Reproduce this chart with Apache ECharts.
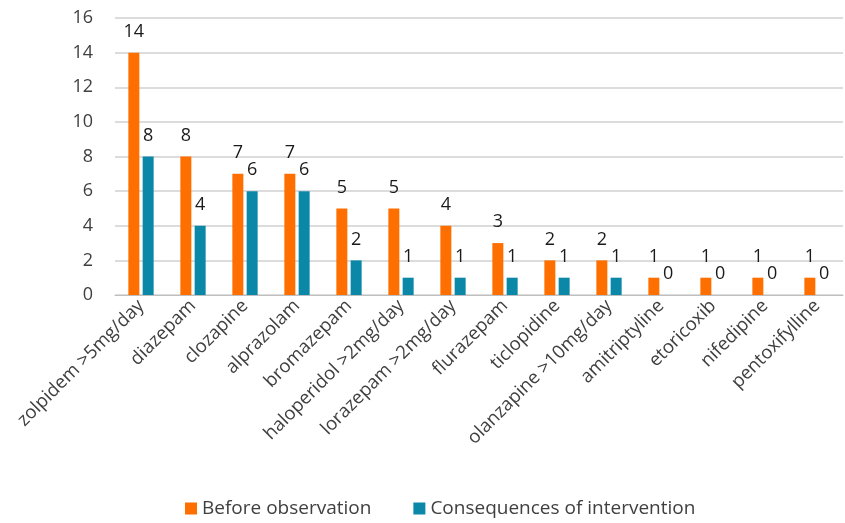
<!DOCTYPE html>
<html>
<head>
<meta charset="utf-8">
<script src="https://cdn.jsdelivr.net/npm/echarts@6/dist/echarts.min.js"></script>
<style>
  html, body { margin: 0; padding: 0; background: #fff; }
  #main { width: 845px; height: 523px; }
</style>
</head>
<body>
<div id="main"></div>
<script>
// 数据
const drugs = ['zolpidem >5mg/day', 'diazepam', 'clozapine', 'alprazolam', 'bromazepam',
    'haloperidol >2mg/day', 'lorazepam >2mg/day', 'flurazepam', 'ticlopidine',
    'olanzapine >10mg/day', 'amitriptyline', 'etoricoxib', 'nifedipine', 'pentoxifylline'];
const beforeObs = [14, 8, 7, 7, 5, 5, 4, 3, 2, 2, 1, 1, 1, 1];
const afterInt = [8, 4, 6, 6, 2, 1, 1, 1, 1, 1, 0, 0, 0, 0];

const font = 'Open Sans';

const chart = echarts.init(document.getElementById('main'));
chart.setOption({
    animation: false,
    textStyle: { fontFamily: font },
    legend: {
        bottom: 0,
        left: 180,
        itemWidth: 12,
        itemHeight: 12,
        itemGap: 42,
        icon: 'rect',
        textStyle: { fontSize: 19, color: '#404040', fontFamily: font },
        data: ['Before observation', 'Consequences of intervention']
    },
    grid: { left: 115, right: 2, top: 18, bottom: 228 },
    xAxis: {
        type: 'category',
        data: drugs,
        axisLine: { lineStyle: { color: '#bfbfbf' } },
        axisTick: { show: false },
        axisLabel: {
            rotate: 45,
            interval: 0,
            fontSize: 18.5,
            color: '#404040',
            margin: 8,
            fontFamily: font
        }
    },
    yAxis: {
        type: 'value',
        min: 0,
        max: 16,
        interval: 2,
        axisLine: { show: false },
        axisTick: { show: false },
        splitLine: { lineStyle: { color: '#d0d0d0', width: 1.5 } },
        axisLabel: { fontSize: 18, color: '#404040', margin: 22, fontFamily: font }
    },
    series: [{
        name: 'Before observation',
        type: 'bar',
        data: beforeObs,
        barWidth: 11,
        barGap: '30%',
        itemStyle: { color: '#FF6F00' },
        label: { show: true, position: 'top', fontSize: 18, color: '#1a1a1a', distance: 12 }
    }, {
        name: 'Consequences of intervention',
        type: 'bar',
        data: afterInt,
        barWidth: 11,
        itemStyle: { color: '#0B88A8' },
        label: { show: true, position: 'top', fontSize: 18, color: '#1a1a1a', distance: 12 }
    }]
});
</script>
</body>
</html>
